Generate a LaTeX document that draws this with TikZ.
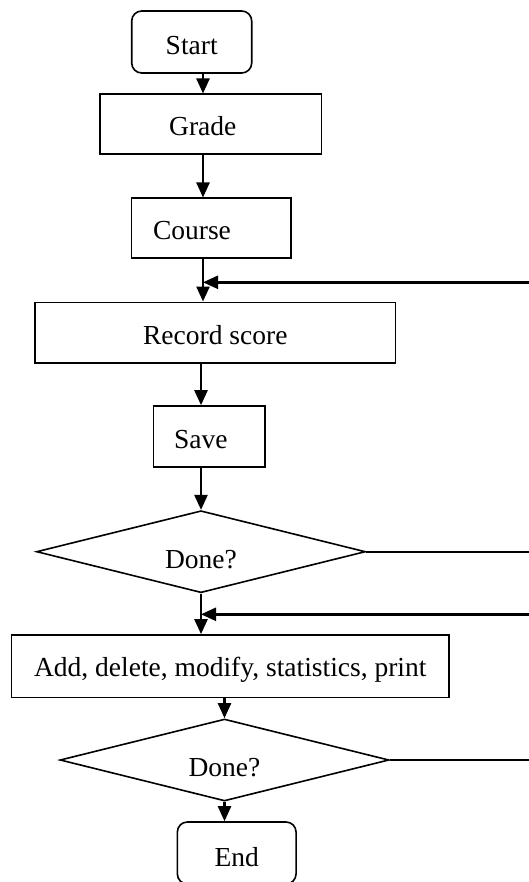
\documentclass[tikz,border=0pt]{standalone}
\usepackage{fontspec}
\setmainfont{Liberation Serif}
\usetikzlibrary{shapes.geometric,arrows.meta}
\begin{document}
\begin{tikzpicture}[x=1pt,y=-1pt,
  box/.style={draw, line width=1.6pt, inner sep=0pt, font=\fontsize{27.5}{33}\selectfont, text depth=0pt},
  term/.style={box, rounded corners=10pt},
  dec/.style={box, diamond, shape aspect=4},
  arr/.style={line width=2.4pt, -{Triangle[length=15pt,width=13pt]}},
  ln/.style={line width=1.8pt}]
\useasboundingbox (0,0) rectangle (529,882);

\node[term, minimum width=120pt, minimum height=62pt, text height=26pt] (start) at (191.7,42) {Start};
\node[box, minimum width=221.7pt, minimum height=60pt, text height=23.4pt] (grade) at (210.8,124.3) {Grade\hspace*{16pt}};
\node[box, minimum width=159.3pt, minimum height=60pt, text height=23.4pt] (course) at (211.3,228.3) {Course\hspace*{38.6pt}};
\node[box, minimum width=360.7pt, minimum height=60.4pt, text height=23.6pt] (record) at (215.3,332.5) {Record score};
\node[box, minimum width=111.7pt, minimum height=61pt, text height=23.6pt] (save) at (209.2,436.5) {Save\hspace*{16.8pt}};
\node[dec, minimum width=329pt, minimum height=82pt, text height=33.2pt] (d1) at (201,551.7) {Done?};
\node[box, minimum width=437.3pt, minimum height=62.7pt, text height=20.6pt] (add) at (230.3,666.3) {Add, delete, modify, statistics, print};
\node[dec, minimum width=329pt, minimum height=82pt, text height=32pt] (d2) at (224.5,760) {Done?};
\node[term, minimum width=118.7pt, minimum height=62pt, text height=27.4pt] (end) at (236.7,853) {End};

\coordinate (colA) at (203,0);
\coordinate (fb1) at (531,282.3);
\coordinate (fb2) at (531,614.3);
\coordinate (o1) at (531,551.7);
\coordinate (o2) at (531,760);

\draw[arr] (start.south -| colA) -- (grade.north -| colA);
\draw[arr] (grade.south -| colA) -- (course.north -| colA);
\draw[arr] (course.south -| colA) -- (record.north -| colA);
\draw[arr] (fb1) -- (fb1 -| colA);
\draw[arr] (record.south -| d1.north) -- (save.north -| d1.north);
\draw[arr] (save.south -| d1.north) -- (d1.north);
\draw[ln] (d1.east) -- (o1);
\draw[arr] (d1.south) -- (add.north -| d1.south);
\draw[arr] (fb2) -- (fb2 -| d1.south);
\draw[arr] (add.south -| d2.north) -- (d2.north);
\draw[ln] (d2.east) -- (o2);
\draw[arr] (d2.south) -- (end.north -| d2.south);
\end{tikzpicture}
\end{document}
